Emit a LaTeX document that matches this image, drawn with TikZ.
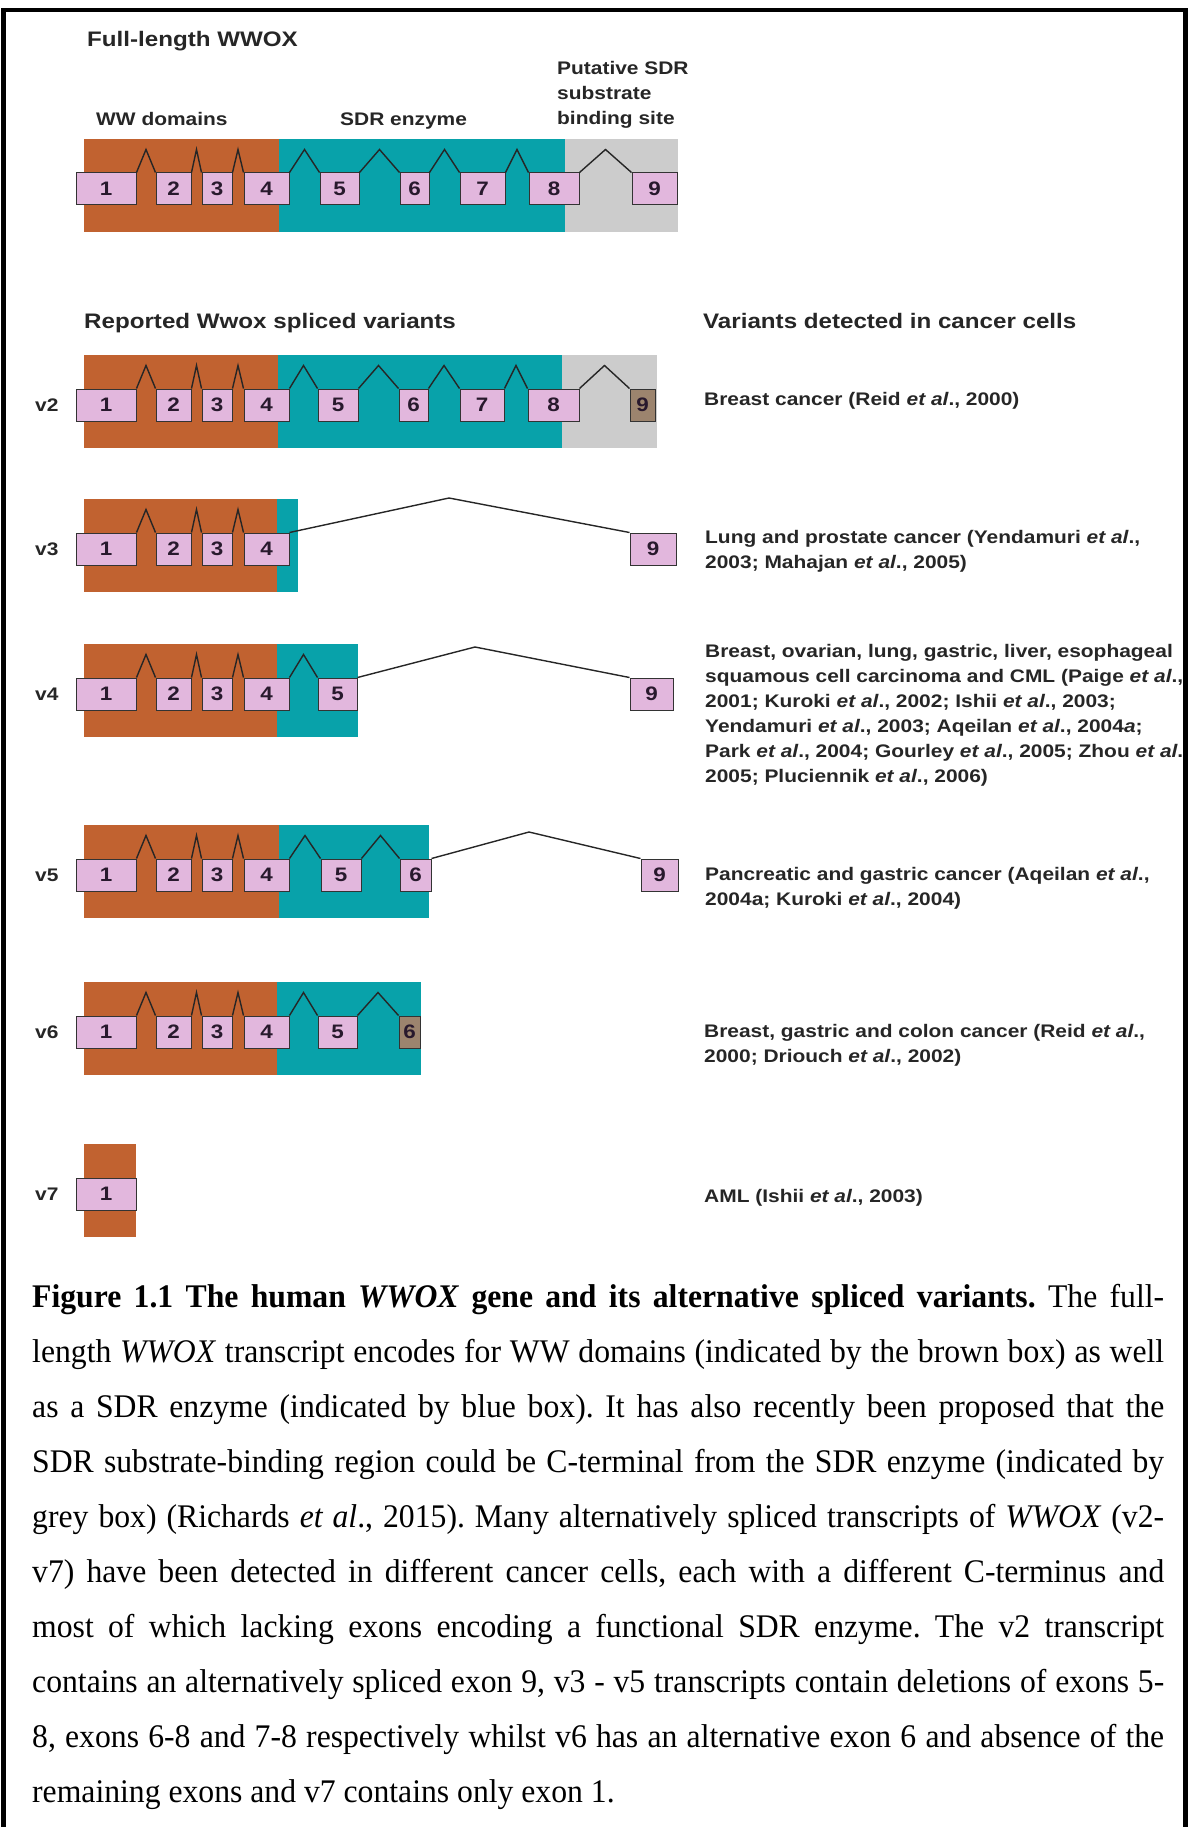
\documentclass[tikz,border=0pt]{standalone}
\usepackage{fontspec}
\setmainfont[FakeStretch=0.96]{Liberation Serif}
\newfontfamily\labelfont[FakeStretch=1.15]{Liberation Sans}
\usepackage{xcolor}
\usepackage{tikz}
\usetikzlibrary{calc}

\definecolor{wwbrown}{RGB}{193,98,48}
\definecolor{sdrteal}{RGB}{8,162,170}
\definecolor{sitegrey}{RGB}{204,204,204}
\definecolor{exonpink}{RGB}{226,183,221}
\definecolor{exonalt}{RGB}{156,132,110}
\definecolor{exonink}{RGB}{40,25,45}

\tikzset{
  exon/.style={draw=black!80, line width=1pt, fill=exonpink, inner sep=0pt,
    minimum height=32pt, text=exonink, font=\labelfont\bfseries\fontsize{19.5}{20}\selectfont},
  altexon/.style={exon, fill=exonalt},
  intron/.style={draw=black!85, line width=1.4pt},
  head/.style={anchor=base west, inner sep=0pt, text=black!85, font=\labelfont\bfseries\fontsize{21}{25}\selectfont},
  note/.style={anchor=base west, inner sep=0pt, align=left, text=black!85, font=\labelfont\bfseries\fontsize{18.2}{25}\selectfont},
  varlabel/.style={anchor=west, inner sep=0pt, text=black!85, font=\labelfont\bfseries\fontsize{18.2}{25}\selectfont}
}

\newcommand{\etal}{\textit{et al}.}
% one exon box: [style]{name}{left x}{right x}{band top}{number}
\newcommand{\putexon}[6][exon]{%
  \node[#1, minimum width={(#4-#3)*1pt}] (#2) at ({(#3+#4)/2},{#5+50}) {#6};}
% intron between two exons, peak 23pt above the boxes
\newcommand{\splice}[2]{%
  \draw[intron] (#1.north east) -- ($(#1.north east)!.5!(#2.north west)+(0,-23)$) -- (#2.north west);}
% WW-domain exons 1-4, the same in every transcript
\newcommand{\wwexons}[2]{%
  \putexon{#1e1}{76}{136}{#2}{1}
  \putexon{#1e2}{156}{191}{#2}{2}
  \putexon{#1e3}{202}{232}{#2}{3}
  \putexon{#1e4}{244}{289}{#2}{4}
  \splice{#1e1}{#1e2}\splice{#1e2}{#1e3}\splice{#1e3}{#1e4}}

\begin{document}
\begin{tikzpicture}[x=1pt, y=-1pt]
  \useasboundingbox (0,0) rectangle (1194,1827);

  % full-length transcript
  \node[head] (fulltitle) at (87,47) {Full-length WWOX};
  \node[note] (wwlab) at (96,126) {WW domains};
  \node[note] (sdrlab) at (340,126) {SDR enzyme};
  \node[note] (sitelab) at (557,125) {Putative SDR\\substrate\\binding site};
  \def\T{139}
  \fill[wwbrown] (84,\T) rectangle (279,\T+93);
  \fill[sdrteal] (279,\T) rectangle (565,\T+93);
  \fill[sitegrey] (565,\T) rectangle (678,\T+93);
  \wwexons{fl}{\T}
  \putexon{fle5}{320}{359}{\T}{5}
  \putexon{fle6}{400}{429}{\T}{6}
  \putexon{fle7}{460}{505}{\T}{7}
  \putexon{fle8}{529}{579}{\T}{8}
  \putexon{fle9}{632}{677}{\T}{9}
  \foreach \p/\q in {4/5,5/6,6/7,7/8,8/9} {\splice{fle\p}{fle\q}}

  % headings
  \node[head] (reported) at (84,328) {Reported Wwox spliced variants};
  \node[head] (detected) at (703,328) {Variants detected in cancer cells};

  % v2: alternative exon 9
  \def\T{355}
  \fill[wwbrown] (84,\T) rectangle (278,\T+93);
  \fill[sdrteal] (278,\T) rectangle (562,\T+93);
  \fill[sitegrey] (562,\T) rectangle (657,\T+93);
  \wwexons{vtwo}{\T}
  \putexon{vtwoe5}{318}{358}{\T}{5}
  \putexon{vtwoe6}{399}{428}{\T}{6}
  \putexon{vtwoe7}{460}{504}{\T}{7}
  \putexon{vtwoe8}{528}{579}{\T}{8}
  \putexon[altexon]{vtwoe9}{630}{655}{\T}{9}
  \foreach \p/\q in {4/5,5/6,6/7,7/8,8/9} {\splice{vtwoe\p}{vtwoe\q}}
  \node[varlabel] (vtwolab) at (35,\T+50) {v2};
  \node[note] (vtwotxt) at (704,405) {Breast cancer (Reid \etal, 2000)};

  % v3: exons 5-8 spliced out
  \def\T{499}
  \fill[wwbrown] (84,\T) rectangle (277,\T+93);
  \fill[sdrteal] (277,\T) rectangle (298,\T+93);
  \wwexons{vthree}{\T}
  \putexon{vthreee9}{630}{676}{\T}{9}
  \coordinate (vthreetop) at (449,498);
  \draw[intron] (vthreee4.north east) -- (vthreetop) -- (vthreee9.north west);
  \node[varlabel] (vthreelab) at (35,\T+50) {v3};
  \node[note] (vthreetxt) at (705,568) {Lung and prostate cancer (Yendamuri \etal,\\2003; Mahajan \etal, 2005)};

  % v4: exons 6-8 spliced out
  \def\T{644}
  \fill[wwbrown] (84,\T) rectangle (277,\T+93);
  \fill[sdrteal] (277,\T) rectangle (358,\T+93);
  \wwexons{vfour}{\T}
  \putexon{vfoure5}{318}{357}{\T}{5}
  \splice{vfoure4}{vfoure5}
  \putexon{vfoure9}{630}{673}{\T}{9}
  \coordinate (vfourtop) at (475,647);
  \draw[intron] (vfoure5.north east) -- (vfourtop) -- (vfoure9.north west);
  \node[varlabel] (vfourlab) at (35,\T+50) {v4};
  \node[note] (vfourtxt) at (705,782) {Breast, ovarian, lung, gastric, liver, esophageal\\
    squamous cell carcinoma and CML (Paige \etal,\\
    2001; Kuroki \etal, 2002; Ishii \etal, 2003;\\
    Yendamuri \etal, 2003; Aqeilan \etal, 2004\textit{a};\\
    Park \etal, 2004; Gourley \etal, 2005; Zhou \etal,\\
    2005; Pluciennik \etal, 2006)};

  % v5: exons 7-8 spliced out
  \def\T{825}
  \fill[wwbrown] (84,\T) rectangle (279,\T+93);
  \fill[sdrteal] (279,\T) rectangle (429,\T+93);
  \wwexons{vfive}{\T}
  \putexon{vfivee5}{321}{361}{\T}{5}
  \putexon{vfivee6}{400}{431}{\T}{6}
  \splice{vfivee4}{vfivee5}\splice{vfivee5}{vfivee6}
  \putexon{vfivee9}{641}{678}{\T}{9}
  \coordinate (vfivetop) at (529,832);
  \draw[intron] (vfivee6.north east) -- (vfivetop) -- (vfivee9.north west);
  \node[varlabel] (vfivelab) at (35,\T+50) {v5};
  \node[note] (vfivetxt) at (705,905) {Pancreatic and gastric cancer (Aqeilan \etal,\\2004a; Kuroki \etal, 2004)};

  % v6: alternative exon 6
  \def\T{982}
  \fill[wwbrown] (84,\T) rectangle (277,\T+93);
  \fill[sdrteal] (277,\T) rectangle (421,\T+93);
  \wwexons{vsix}{\T}
  \putexon{vsixe5}{318}{357}{\T}{5}
  \putexon[altexon]{vsixe6}{399}{420}{\T}{6}
  \splice{vsixe4}{vsixe5}\splice{vsixe5}{vsixe6}
  \node[varlabel] (vsixlab) at (35,\T+50) {v6};
  \node[note] (vsixtxt) at (704,1062) {Breast, gastric and colon cancer (Reid \etal,\\2000; Driouch \etal, 2002)};

  % v7: exon 1 only
  \def\T{1144}
  \fill[wwbrown] (84,\T) rectangle (136,\T+93);
  \putexon{vsevene1}{76}{136}{\T}{1}
  \node[varlabel] (vsevenlab) at (35,\T+50) {v7};
  \node[note] (vseventxt) at (704,1202) {AML (Ishii \etal, 2003)};

  % figure legend
  \node[anchor=base west, align=left, inner sep=0pt, font=\fontsize{33}{55}\selectfont\frenchspacing] (legend) at (32,1802) {%
    \makebox[1132pt][s]{\textbf{Figure 1.1 The human \textit{WWOX} gene and its alternative spliced variants.} The full-}\\
    \makebox[1132pt][s]{length \textit{WWOX} transcript encodes for WW domains (indicated by the brown box) as well}\\
    \makebox[1132pt][s]{as a SDR enzyme (indicated by blue box). It has also recently been proposed that the}\\
    \makebox[1132pt][s]{SDR substrate-binding region could be C-terminal from the SDR enzyme (indicated by}\\
    \makebox[1132pt][s]{grey box) (Richards \textit{et al}., 2015). Many alternatively spliced transcripts of \textit{WWOX} (v2-}\\
    \makebox[1132pt][s]{v7) have been detected in different cancer cells, each with a different C-terminus and}\\
    \makebox[1132pt][s]{most of which lacking exons encoding a functional SDR enzyme. The v2 transcript}\\
    \makebox[1132pt][s]{contains an alternatively spliced exon 9, v3 - v5 transcripts contain deletions of exons 5-}\\
    \makebox[1132pt][s]{8, exons 6-8 and 7-8 respectively whilst v6 has an alternative exon 6 and absence of the}\\
    remaining exons and v7 contains only exon 1.};

  % frame, open at the bottom
  \draw[line width=4.5pt] (3.5,1827) -- (3.5,10) -- (1185.5,10) -- (1185.5,1827);
\end{tikzpicture}
\end{document}
